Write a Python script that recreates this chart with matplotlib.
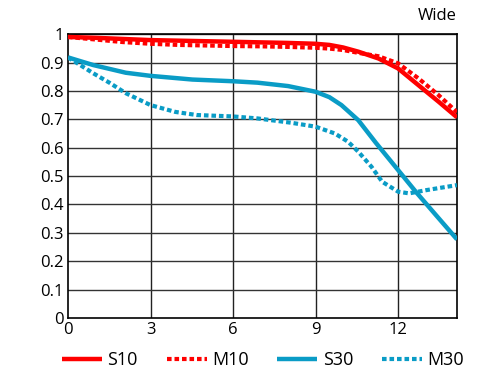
import matplotlib
import matplotlib.pyplot as plt

matplotlib.use("Agg")

plt.rcParams["font.family"] = ["Open Sans", "DejaVu Sans"]

# MTF curves (image height in mm vs contrast)
x_s10 = [0, 1, 2, 3, 4, 5, 6, 7, 8, 9, 9.5, 10, 10.56, 11.29, 12, 12.74,
         13.47, 14.14]
s10 = [0.99, 0.987, 0.983, 0.979, 0.977, 0.975, 0.973, 0.971, 0.969, 0.966,
       0.962, 0.953, 0.938, 0.914, 0.879, 0.82, 0.762, 0.707]

x_m10 = [0, 1, 2, 3, 4, 5, 6, 7, 8, 9, 9.5, 10, 10.56, 11.29, 12, 12.74,
         13.47, 14.14]
m10 = [0.99, 0.981, 0.972, 0.966, 0.962, 0.96, 0.958, 0.957, 0.955, 0.952,
       0.949, 0.944, 0.934, 0.922, 0.897, 0.844, 0.785, 0.725]

x_s30 = [0, 0.92, 2.1, 3, 4.52, 6, 6.89, 8, 9, 9.5, 9.94, 10.55, 11.2, 12,
         12.64, 13.37, 14.14]
s30 = [0.918, 0.891, 0.864, 0.853, 0.84, 0.834, 0.829, 0.817, 0.797, 0.778,
       0.75, 0.697, 0.616, 0.521, 0.445, 0.363, 0.277]

x_m30 = [0, 0.92, 1.52, 2.1, 3, 3.9, 4.68, 6, 6.89, 8.1, 9, 9.7, 10.18,
         10.55, 11.03, 11.42, 12, 12.4, 13, 13.5, 14.14]
m30 = [0.918, 0.862, 0.828, 0.792, 0.75, 0.726, 0.715, 0.71, 0.703, 0.688,
       0.674, 0.65, 0.621, 0.586, 0.533, 0.48, 0.445, 0.439, 0.45, 0.458, 0.468]

x_ticks = [0, 3, 6, 9, 12]
y_ticks = [0, 0.1, 0.2, 0.3, 0.4, 0.5, 0.6, 0.7, 0.8, 0.9, 1]
y_labels = ["0", "0.1", "0.2", "0.3", "0.4", "0.5", "0.6", "0.7", "0.8", "0.9", "1"]

RED = "#ff0000"
BLUE = "#0a9cc6"
DOTS = (0, (1.1, 0.7))

fig = plt.figure(figsize=(5, 3.75), dpi=100)
ax = fig.add_axes([0.136, 0.152, 0.778, 0.757])

for v in x_ticks[1:]:
    ax.axvline(v, color="#222222", linewidth=1.0, zorder=1)
for v in y_ticks[1:]:
    ax.axhline(v, color="#333333", linewidth=1.0, zorder=1)

solid = dict(linewidth=3.2, zorder=3, solid_capstyle="butt",
             solid_joinstyle="round")
dotted = dict(linewidth=3.0, zorder=3, linestyle=DOTS,
              dash_joinstyle="round")
ax.plot(x_s10, s10, color=RED, label="S10", **solid)
ax.plot(x_m10, m10, color=RED, label="M10", **dotted)
ax.plot(x_s30, s30, color=BLUE, label="S30", **solid)
ax.plot(x_m30, m30, color=BLUE, label="M30", **dotted)

ax.set_xlim(0, 14.14)
ax.set_ylim(0, 1)
ax.set_xticks(x_ticks)
ax.set_yticks(y_ticks)
ax.set_yticklabels(y_labels)
ax.tick_params(length=0, labelsize=12, pad=3)
for sp in ax.spines.values():
    sp.set_color("black")
    sp.set_linewidth(1.2)

ax.text(1.0, 1.035, "Wide", transform=ax.transAxes, ha="right", va="bottom",
        fontsize=12)

fig.legend(loc="center", bbox_to_anchor=(0.526, 0.04), ncol=4, frameon=False,
           fontsize=13, handlelength=2.2, handletextpad=0.3,
           columnspacing=1.6, borderaxespad=0)

fig.savefig("out.png", dpi=100)
plt.close(fig)
